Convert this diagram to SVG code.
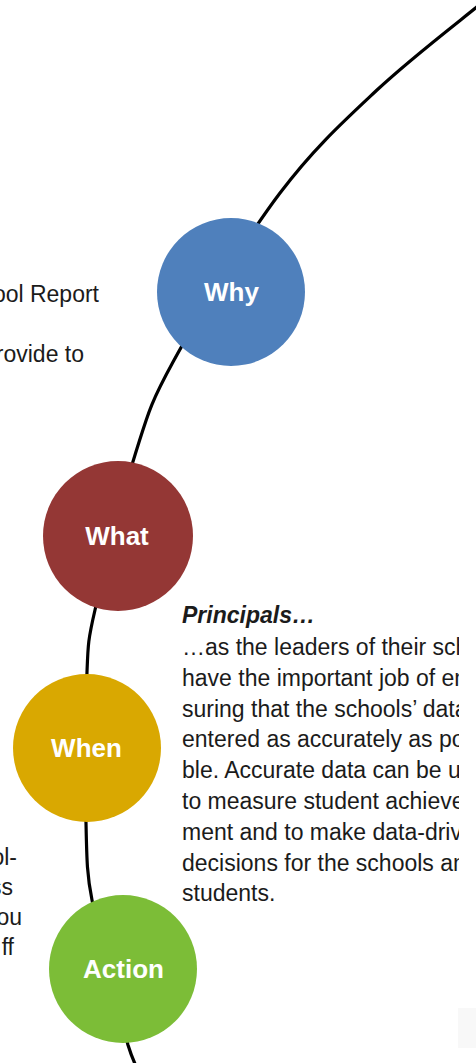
<svg xmlns="http://www.w3.org/2000/svg" width="476" height="1063" viewBox="0 0 476 1063">
  <style>
    .body { font-family: "Liberation Sans", Arial, sans-serif; font-size: 23px; fill: #1b1b1b; }
    .head { font-family: "Liberation Sans", Arial, sans-serif; font-size: 23px; font-weight: bold; font-style: italic; fill: #1b1b1b; }
    .label { font-family: "Liberation Sans", Arial, sans-serif; font-size: 26px; font-weight: bold; fill: #ffffff; text-anchor: middle; }
    .path-line { fill: none; stroke: #000000; stroke-width: 3.2; stroke-linecap: round; }
  </style>
  <defs>
    <!-- text column ends a little before the right edge -->
    <clipPath id="note-clip">
      <rect x="0" y="590" width="459" height="330"/>
    </clipPath>
  </defs>
  <rect width="476" height="1063" fill="#ffffff"/>

  <!-- faint box in the lower right corner -->
  <rect x="458" y="1008" width="18" height="40" fill="#f8f8f8"/>

  <!-- the curved path threading the stages -->
  <g id="connectors">
    <path class="path-line" d="M 478 6 C 461 20, 410 59, 377 90 C 344 121, 314 148, 280 193 C 246 238, 197 318, 173 362 C 149 406, 148 414, 135 455 C 122 496, 103 574, 95 610 C 88 640, 88 645, 87 672 C 85.5 707, 85.2 785, 86 823 C 86.8 861, 87 875, 92 900 C 99 937, 120.5 1017, 128 1045 C 132 1058, 135 1064, 137 1068"/>
  </g>

  <!-- text cut off at the left edge -->
  <g id="left-text" class="body" text-anchor="end">
    <text x="99" y="302">ool Report</text>
    <text x="84" y="362">rovide to</text>
    <text x="17" y="865">ol-</text>
    <text x="13" y="895">ss</text>
    <text x="22" y="925">ou</text>
    <text x="14" y="955">ff</text>
  </g>

  <g id="node-why">
    <circle cx="231" cy="292" r="74" fill="#4F80BC"/>
    <text class="label" x="231.5" y="301">Why</text>
  </g>
  <g id="node-what">
    <circle cx="118" cy="536" r="75" fill="#943735"/>
    <text class="label" x="117" y="545">What</text>
  </g>
  <g id="node-when">
    <circle cx="87" cy="748" r="74" fill="#D9A801"/>
    <text class="label" x="86.5" y="757">When</text>
  </g>
  <g id="node-action">
    <circle cx="123" cy="969" r="74" fill="#7CBD37"/>
    <text class="label" x="123.5" y="978">Action</text>
  </g>

  <!-- principals note -->
  <g id="principals-note" clip-path="url(#note-clip)">
    <text class="head" x="182" y="623">Principals…</text>
    <g class="body">
      <text x="182" y="655">…as the leaders of their schools,</text>
      <text x="182" y="686">have the important job of en-</text>
      <text x="182" y="717">suring that the schools’ data is</text>
      <text x="182" y="747">entered as accurately as possi-</text>
      <text x="182" y="778">ble. Accurate data can be used</text>
      <text x="182" y="809">to measure student achieve-</text>
      <text x="182" y="840">ment and to make data-driven</text>
      <text x="182" y="871">decisions for the schools and</text>
      <text x="182" y="901">students.</text>
    </g>
  </g>
</svg>
